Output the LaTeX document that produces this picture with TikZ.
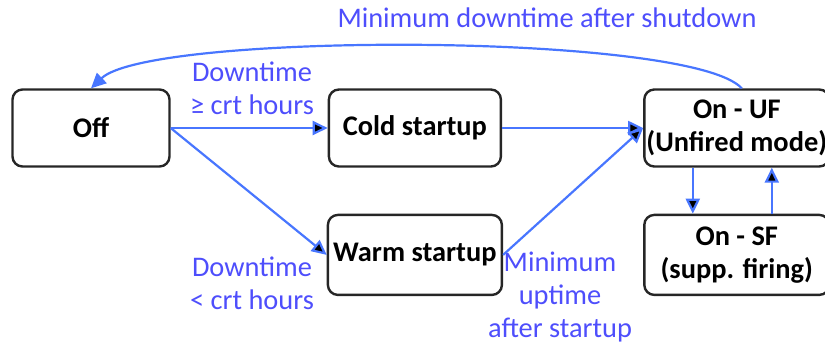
\documentclass[tikz,border=0pt]{standalone}
\usepackage{fontspec}
\setmainfont{Carlito}
\usetikzlibrary{arrows.meta, calc, positioning, quotes}
\definecolor{arrowblue}{RGB}{72,118,255}
\definecolor{labelblue}{RGB}{78,78,252}

\begin{document}
\begin{tikzpicture}[
        x=0.5pt, y=-0.5pt,
        node distance = 23pt and 78pt,
        base/.style = {draw=black!85, line width=1.2pt, rounded corners=5pt,
                       inner sep=0pt, align=center,
                       font=\fontsize{14.2}{16.5}\selectfont\bfseries},
        block/.style = {base, minimum height=38.5pt},
        lbl/.style = {text=labelblue, align=center,
                      font=\fontsize{14.2}{16.5}\selectfont},
        conn/.style = {draw=arrowblue, line width=1.1pt,
                       -{Triangle[length=7.5pt,width=7pt]}},
        ]
        \useasboundingbox (0,0) rectangle (825,345);
        \node [block, minimum width=78.5pt] (Off) at (91,128) {Off};
        \node [block, minimum width=86pt, right=78.5pt of Off] (Cold) {Cold startup};
        \node [block, minimum width=87pt, minimum height=40pt, below=23pt of Cold] (Warm) {Warm startup};
        \node [block, minimum width=92.5pt, right=70.5pt of Cold] (UF) {On - UF\\(Unfired mode)};
        \node [block, minimum width=92.5pt, minimum height=40pt, below=23pt of UF] (SF) {On - SF\\(supp. firing)};

        \node [lbl] (LongDown) at (547,18) {Minimum downtime after shutdown};
        \node [lbl] (ColdLbl) at (252,88) {Downtime\\≥ crt hours};
        \node [lbl] (WarmLbl) at (252,283) {Downtime\\< crt hours};
        \node [lbl] (UpLbl) at (560,297) {Minimum\\uptime\\after startup};

        \draw [conn]
            (Off.east) edge (Cold.west)
            (Off.east) edge (Warm.west)
            (Cold.east) edge (UF.west)
            (Warm.east) edge (UF.west)
            ([xshift=-22pt]UF.south) edge ([xshift=-22pt]SF.north)
            ([xshift=17.5pt]SF.north) edge ([xshift=17.5pt]UF.south)
            ([xshift=2.5pt]UF.north) .. controls (690,32) and (150,32) .. (Off.north);
\end{tikzpicture}
\end{document}
